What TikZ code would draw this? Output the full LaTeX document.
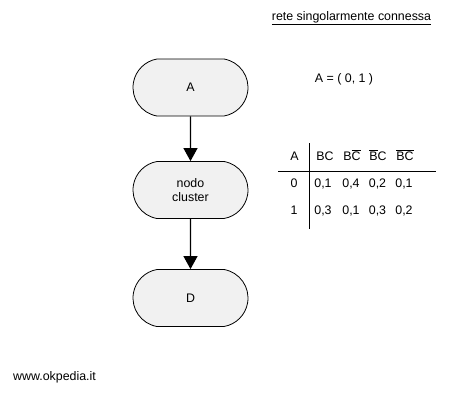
\documentclass[tikz,border=0pt]{standalone}
\usepackage{fontspec}
\setmainfont{Liberation Sans}
\usetikzlibrary{shapes.misc,arrows.meta}
\newcommand\obar[1]{\ensuremath{\overline{\mbox{#1}}}}
\tikzset{
  bnode/.style={rounded rectangle, rounded rectangle arc length=160, draw=black, line width=0.8pt,
    fill=boxgray, minimum width=115pt, minimum height=57pt, inner sep=0pt, align=center,
    font=\fontsize{12.4}{14}\selectfont},
  conn/.style={line width=1.1pt, -{Triangle[width=14pt,length=13pt]}},
  txt/.style={inner sep=0pt, font=\fontsize{12.4}{14}\selectfont},
  cell/.style={inner sep=0pt, font=\fontsize{12.4}{14}\selectfont, anchor=base},
  tline/.style={line width=0.8pt}
}
\definecolor{boxgray}{HTML}{F1F1F1}
\begin{document}
\begin{tikzpicture}[x=1pt,y=-1pt]
\useasboundingbox (0,0) rectangle (450,400);
% nodes
\node[bnode] (A) at (190.5,87.5) {A};
\node[bnode] (C) at (190.5,190) {nodo\\cluster};
\node[bnode] (D) at (190.5,298) {D};
\draw[conn] (A) -- (C);
\draw[conn] (C) -- (D);
% title
\node[txt] (title) at (351.5,18) {\underline{rete singolarmente connessa}};
\node[txt] (eq) at (344,79) {A = ( 0, 1 )};
\node[txt] (web) at (54.5,377) {www.okpedia.it};
% table
\draw[tline] (309,143) -- (309,229);
\draw[tline] (278,171) -- (436,171);
\node[cell] (hA) at (294.5,160.5) {A};
\node[cell] (h1) at (325,160.5) {BC};
\node[cell] (h2) at (352,160.5) {B\obar{C}};
\node[cell] (h3) at (378,160.5) {\obar{B}C};
\node[cell] (h4) at (405,160.5) {\obar{BC}};
\node[cell] (r0) at (294,187.5) {0};
\node[cell] (v01) at (323,187.5) {0,1};
\node[cell] (v02) at (351,187.5) {0,4};
\node[cell] (v03) at (377.5,187.5) {0,2};
\node[cell] (v04) at (404,187.5) {0,1};
\node[cell] (r1) at (294,214.5) {1};
\node[cell] (v11) at (323,214.5) {0,3};
\node[cell] (v12) at (351,214.5) {0,1};
\node[cell] (v13) at (377.5,214.5) {0,3};
\node[cell] (v14) at (404,214.5) {0,2};
\end{tikzpicture}
\end{document}
